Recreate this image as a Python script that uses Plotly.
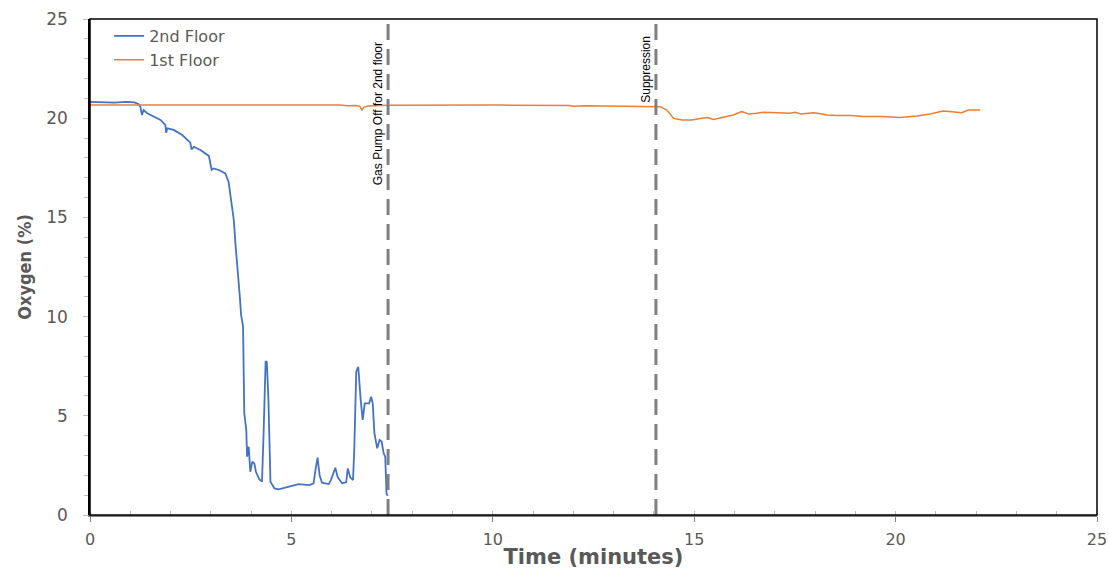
import plotly.graph_objects as go

# 2nd Floor oxygen (%)
t_2nd = [0, 0.3, 0.6, 0.9, 1.1, 1.2, 1.25, 1.29, 1.33, 1.42, 1.58, 1.75, 1.87, 1.89, 1.92, 2.08, 2.29,
         2.49, 2.52, 2.58, 2.74, 2.95, 3.02, 3.07, 3.2, 3.36, 3.44, 3.49, 3.53, 3.57, 3.61, 3.65, 3.69,
         3.72, 3.75, 3.78, 3.8, 3.83, 3.86, 3.88, 3.9, 3.94, 3.98, 4.03, 4.08, 4.12, 4.2, 4.27, 4.31,
         4.36, 4.39, 4.43, 4.48, 4.58, 4.68, 4.98, 5.18, 5.45, 5.55, 5.6, 5.65, 5.7, 5.76, 5.93, 5.98,
         6.09, 6.15, 6.26, 6.36, 6.4, 6.46, 6.53, 6.56, 6.61, 6.66, 6.72, 6.77, 6.82, 6.93, 6.98, 7.02,
         7.06, 7.13, 7.19, 7.24, 7.29, 7.33, 7.36, 7.39]
o2_2nd = [20.82, 20.8, 20.78, 20.82, 20.8, 20.72, 20.58, 20.16, 20.41, 20.25, 20.08, 19.91, 19.66, 19.27,
          19.49, 19.41, 19.15, 18.77, 18.43, 18.56, 18.4, 18.1, 17.39, 17.47, 17.39, 17.22, 16.8, 16.04,
          15.54, 14.87, 13.69, 12.85, 11.84, 11.0, 10.1, 9.83, 9.5, 5.14, 4.6, 4.28, 2.94, 3.44, 2.18,
          2.69, 2.6, 2.18, 1.8, 1.68, 4.13, 7.76, 7.7, 5.8, 1.68, 1.34, 1.29, 1.43, 1.56, 1.51, 1.6, 2.3,
          2.89, 2.0, 1.63, 1.56, 1.76, 2.38, 1.9, 1.6, 1.65, 2.35, 1.9, 1.76, 3.28, 7.22, 7.47, 5.8, 4.79,
          5.63, 5.63, 5.96, 5.6, 4.12, 3.36, 3.78, 3.7, 3.11, 2.94, 1.09, 0.96]

# 1st Floor oxygen (%)
t_1st = [0, 1.0, 2.0, 3.0, 4.0, 5.0, 6.2, 6.4, 6.6, 6.7, 6.75, 6.8, 6.9, 7.4, 8.5, 9.9, 10.2, 11.9,
         12.0, 12.3, 13.0, 14.03, 14.16, 14.32, 14.49, 14.7, 14.94, 15.15, 15.32, 15.48, 15.72, 15.97,
         16.18, 16.35, 16.55, 16.72, 17.38, 17.5, 17.65, 17.96, 18.1, 18.3, 18.54, 18.9, 19.2, 19.65,
         20.1, 20.53, 20.86, 21.18, 21.4, 21.64, 21.8, 22.1]
o2_1st = [20.67, 20.67, 20.66, 20.67, 20.67, 20.67, 20.67, 20.63, 20.64, 20.6, 20.42, 20.55, 20.62,
          20.65, 20.65, 20.68, 20.66, 20.64, 20.6, 20.63, 20.62, 20.6, 20.58, 20.41, 19.99, 19.91, 19.91,
          19.99, 20.04, 19.94, 20.04, 20.16, 20.33, 20.21, 20.25, 20.3, 20.25, 20.3, 20.21, 20.28, 20.24,
          20.16, 20.13, 20.13, 20.08, 20.08, 20.03, 20.11, 20.21, 20.36, 20.33, 20.28, 20.41, 20.41]

event_times = [7.4, 14.05]
event_labels = ["Gas Pump Off for 2nd floor", "Suppression"]
event_label_y = [16.5, 20.7]

fig = go.Figure()
fig.add_trace(go.Scatter(x=t_2nd, y=o2_2nd, mode="lines", name="2nd Floor",
                         line=dict(color="#4472C4", width=1.8)))
fig.add_trace(go.Scatter(x=t_1st, y=o2_1st, mode="lines", name="1st Floor",
                         line=dict(color="#ED7D31", width=1.5)))

for xt, lab, ly in zip(event_times, event_labels, event_label_y):
    fig.add_shape(type="line", xref="x", yref="y", x0=xt, x1=xt, y0=0, y1=25,
                  line=dict(color="#7F7F7F", width=3, dash="16px,9px"))
    fig.add_annotation(x=xt, y=ly, xref="x", yref="y", text=lab, textangle=-90,
                       showarrow=False, xanchor="right", yanchor="bottom", xshift=-1,
                       font=dict(family="Liberation Sans, Arial, sans-serif",
                                 size=12, color="#000000"))

fig.add_shape(type="rect", xref="paper", yref="paper", x0=0, x1=1, y0=0, y1=1,
              line=dict(color="#000000", width=1.5), layer="above")

fig.update_layout(
    width=1109, height=569,
    margin=dict(l=90, r=12, t=19, b=54),
    paper_bgcolor="white", plot_bgcolor="white",
    showlegend=True,
    legend=dict(x=0.019, y=1.0, xanchor="left", yanchor="top", bgcolor="rgba(0,0,0,0)",
                font=dict(family="DejaVu Sans, sans-serif", size=16, color="#595959"),
                tracegroupgap=0),
    xaxis=dict(range=[0, 25], tickvals=[0, 5, 10, 15, 20, 25], showgrid=False, zeroline=False,
               automargin=False,
               showline=True, linecolor="#808080", linewidth=2, ticks="outside", ticklen=5,
               tickcolor="#808080", ticklabelstandoff=4,
               minor=dict(dtick=1, ticks="inside", ticklen=4, tickcolor="#BFBFBF", showgrid=False),
               tickfont=dict(family="DejaVu Sans, sans-serif", size=16, color="#595959"),
               title=dict(text="<b>Time (minutes)</b>", standoff=3,
                          font=dict(family="DejaVu Sans, sans-serif", size=21, color="#595959"))),
    yaxis=dict(range=[0, 25], tickvals=[0, 5, 10, 15, 20, 25], showgrid=False, zeroline=False,
               automargin=False,
               showline=True, linecolor="#000000", linewidth=1.5, ticks="outside", ticklen=5,
               tickcolor="#BFBFBF", ticklabelstandoff=12,
               minor=dict(dtick=1, ticks="outside", ticklen=4, tickcolor="#BFBFBF", showgrid=False),
               tickfont=dict(family="DejaVu Sans, sans-serif", size=17, color="#595959"),
               title=dict(text="<b>Oxygen (%)</b>", standoff=10,
                          font=dict(family="DejaVu Sans Condensed, DejaVu Sans, sans-serif",
                                    size=18, color="#595959"))),
)

fig.write_html("out.html", config={"displayModeBar": False},
               post_script="document.body.style.margin='0';")
